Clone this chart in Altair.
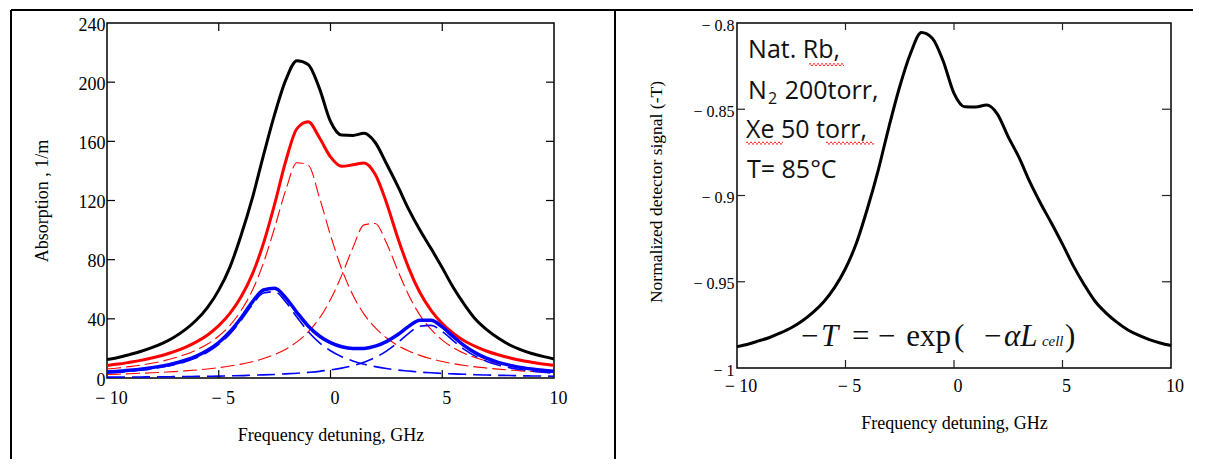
import altair as alt
import pandas as pd

# ---------------- data ----------------
freq = [-10, -9.5, -9, -8.5, -8, -7.5, -7, -6.5, -6, -5.5, -5, -4.5, -4, -3.5, -3, -2.5,
        -2, -1.5, -1, -0.5, 0, 0.5, 1, 1.5, 2, 2.5, 3, 3.5, 4, 4.5, 5, 5.5, 6, 6.5, 7,
        7.5, 8, 8.5, 9, 9.5, 10]

absorption_total = [12.5, 13.9, 15.8, 17.9, 20.5, 23.6, 27.6, 32.7, 39.2, 47.8, 59.4, 75.0,
                    96.5, 121.4, 150.5, 178.2, 201.5, 214.5, 212.0, 196.0, 173.4, 164.2, 164.0,
                    165.4, 159.2, 145.0, 130.0, 114.0, 100.0, 87.5, 74.5, 61.0, 49.5, 39.5, 32.5,
                    27.0, 22.5, 19.2, 16.6, 14.6, 12.9]

rb85_total = [8.5, 9.4, 10.6, 11.9, 13.5, 15.4, 17.8, 20.7, 24.4, 29.1, 35.4, 43.7, 55.0, 70.1,
              91.0, 117.5, 146.7, 168.6, 173.2, 162.6, 149.5, 143.1, 144.1, 145.4, 137.7, 118.7,
              95.2, 74.3, 57.8, 45.8, 36.8, 30.1, 25.0, 21.2, 18.1, 15.7, 13.7, 12.0, 10.7, 9.5, 8.6]

rb85_line_a = [6.1, 6.8, 7.7, 8.7, 10.0, 11.5, 13.5, 15.9, 19.0, 23.0, 28.4, 35.6, 45.6, 59.1,
               77.8, 101.6, 127.2, 145.5, 144.0, 122.3, 96.5, 73.7, 56.1, 43.2, 34.0, 27.2, 22.1,
               18.3, 15.3, 13.0, 11.2, 9.7, 8.5, 7.5, 6.7, 6.0, 5.4, 4.8, 4.4, 4.0, 3.7]

rb85_line_b = [2.4, 2.6, 2.9, 3.2, 3.5, 3.9, 4.3, 4.8, 5.4, 6.1, 7.0, 8.1, 9.4, 11.0, 13.2, 15.9,
               19.5, 24.4, 31.1, 40.3, 53.0, 69.4, 88.0, 103.5, 104.5, 91.5, 73.1, 56.0, 42.5,
               32.8, 25.6, 20.4, 16.5, 13.7, 11.4, 9.7, 8.3, 7.2, 6.3, 5.5, 4.9]

rb87_total = [4.0, 4.5, 5.2, 6.0, 7.0, 8.2, 9.8, 12.0, 14.8, 18.7, 24.0, 31.3, 40.6, 51.3, 59.5,
              60.7, 54.2, 44.3, 35.2, 28.4, 23.9, 21.1, 19.9, 20.0, 21.5, 24.6, 29.2, 34.9, 39.0,
              39.1, 34.5, 27.9, 21.7, 16.8, 13.2, 10.6, 8.7, 7.2, 6.1, 5.2, 4.5]

rb87_line_a = [3.4, 3.9, 4.5, 5.3, 6.2, 7.4, 8.9, 11.0, 13.7, 17.5, 22.7, 29.8, 39.0, 49.4, 57.4,
               58.3, 51.4, 41.1, 31.4, 23.9, 18.4, 14.4, 11.5, 9.3, 7.7, 6.4, 5.4, 4.7, 4.0, 3.5,
               3.1, 2.8, 2.5, 2.2, 2.0, 1.8, 1.7, 1.5, 1.4, 1.3, 1.2]

rb87_line_b = [0.6, 0.6, 0.7, 0.7, 0.8, 0.8, 0.9, 1.0, 1.1, 1.2, 1.3, 1.5, 1.6, 1.9, 2.1, 2.4,
               2.8, 3.2, 3.8, 4.5, 5.5, 6.7, 8.4, 10.7, 13.8, 18.2, 23.8, 30.2, 35.0, 35.6, 31.4,
               25.1, 19.2, 14.6, 11.2, 8.8, 7.0, 5.7, 4.7, 3.9, 3.3]

detector_signal = [-0.9876, -0.9862, -0.9843, -0.9823, -0.9797, -0.9767, -0.9728, -0.9678,
                   -0.9616, -0.9533, -0.9423, -0.9277, -0.9080, -0.8857, -0.8603, -0.8368,
                   -0.8175, -0.8055, -0.8088, -0.8220, -0.8408, -0.8486, -0.8487, -0.8476,
                   -0.8528, -0.8660, -0.8781, -0.8923, -0.9048, -0.9162, -0.9282, -0.9408,
                   -0.9517, -0.9613, -0.9680, -0.9734, -0.9778, -0.9810, -0.9835, -0.9855, -0.9870]

left_x_labels = [-10, -5, 0, 5, 10]
left_y_labels = [0, 40, 80, 120, 160, 200, 240]
left_x_ticks = [-5, 0, 5]
left_y_ticks = [40, 80, 120, 160, 200]
right_x_labels = [-10, -5, 0, 5, 10]
right_y_labels = [-1, -0.95, -0.9, -0.85, -0.8]
right_x_ticks = [-5, 0, 5]
right_y_ticks = [-0.95, -0.9, -0.85]

# annotation text (right panel), anchored in data coordinates
note_text = ["Nat. Rb,", "N", "200torr,", "Xe 50 torr,", "T= 85\u00b0C"]
note_x = [-9.49, -9.49, -7.80, -9.585, -9.54]
note_y = [-0.8205, -0.8442, -0.8442, -0.8668, -0.8900]
note_sub_text = ["2"]
note_sub_x = [-8.57]
note_sub_y = [-0.8471]
squiggle_x = [-6.68, -9.585, -5.90]
squiggle_x2 = [-5.07, -7.88, -3.69]
squiggle_y = [-0.8237, -0.8692, -0.8692]

formula_roman = ["\u2212", "=", "\u2212", "exp", "(", "\u2212", ")"]
formula_roman_x = [-7.05, -4.70, -3.50, -2.20, 0.00, 1.38, 5.12]
formula_italic = ["T", "\u03b1L"]
formula_italic_x = [-6.13, 2.30]
formula_sub = ["cell"]
formula_sub_x = [4.05]
formula_y = -0.9874
formula_sub_y = -0.9870

# ---------------- chart ----------------
SERIF = "Liberation Serif"
W1, H1 = 447, 355
W2, H2 = 434, 345
MINUS = "datum.value < 0 ? '\u2212 ' + abs(datum.value) : '' + datum.value"

xs1 = alt.Scale(domain=[-10, 10], nice=False, zero=False)
ys1 = alt.Scale(domain=[0, 240], nice=False, zero=False)
xs2 = alt.Scale(domain=[-10, 10], nice=False, zero=False)
ys2 = alt.Scale(domain=[-1, -0.8], nice=False, zero=False)

xa1 = alt.Axis(values=left_x_labels, labelExpr=MINUS, title="Frequency detuning, GHz",
               titleX=W1 / 2, titleY=57, titleBaseline="middle", titleFontSize=18,
               labelPadding=11, labelOffset=4, labelFontSize=18, labelFlush=False,
               labelOverlap=False, ticks=False, tickSize=0, domain=False, grid=False)
ya1 = alt.Axis(values=left_y_labels, labelExpr=MINUS, title="Absorption , 1/m",
               titleX=-65, titleY=H1 / 2, titleBaseline="middle", titleFontSize=18,
               labelPadding=2, labelOffset=2, labelFontSize=18, labelOverlap=False,
               ticks=False, tickSize=0, domain=False, grid=False)
xa2 = alt.Axis(values=right_x_labels, labelExpr=MINUS, title="Frequency detuning, GHz",
               titleX=W2 / 2, titleY=55, titleBaseline="middle", titleFontSize=18,
               labelPadding=9, labelOffset=3.5, labelFontSize=18, labelFlush=False,
               labelOverlap=False, ticks=False, tickSize=0, domain=False, grid=False)
ya2 = alt.Axis(values=right_y_labels, labelExpr=MINUS, title="Normalized detector signal  (-T)",
               titleX=-81, titleY=H2 / 2 - 4, titleBaseline="middle", titleFontSize=17.5,
               labelPadding=3, labelOffset=2, labelFontSize=16, labelOverlap=False,
               ticks=False, tickSize=0, domain=False, grid=False)

df = pd.DataFrame({
    "f": freq, "tot": absorption_total, "r": rb85_total, "ra": rb85_line_a, "rb": rb85_line_b,
    "b": rb87_total, "ba": rb87_line_a, "bb": rb87_line_b, "s": detector_signal,
})
one = pd.DataFrame({"k": [0]})

RED = "#ff0000"
BLUE = "#0000ff"


def curve(col, color, width, dash=None):
    kw = dict(color=color, strokeWidth=width, interpolate="monotone")
    if dash:
        kw["strokeDash"] = dash
    return alt.Chart(df).mark_line(**kw).encode(
        x=alt.X("f:Q", scale=xs1, axis=xa1),
        y=alt.Y(f"{col}:Q", scale=ys1, axis=ya1),
    )


lt = pd.DataFrame({"v": left_x_ticks})
ltY = pd.DataFrame({"v": left_y_ticks})
tick_l = [
    alt.Chart(lt).mark_rule(color="black", strokeWidth=1.2).encode(
        x=alt.X("v:Q", scale=xs1, axis=xa1), y=alt.value(H1), y2=alt.value(H1 - 8)),
    alt.Chart(lt).mark_rule(color="black", strokeWidth=1.2).encode(
        x=alt.X("v:Q", scale=xs1, axis=xa1), y=alt.value(0), y2=alt.value(8)),
    alt.Chart(ltY).mark_rule(color="black", strokeWidth=1.2).encode(
        y=alt.Y("v:Q", scale=ys1, axis=ya1), x=alt.value(0), x2=alt.value(8)),
    alt.Chart(ltY).mark_rule(color="black", strokeWidth=1.2).encode(
        y=alt.Y("v:Q", scale=ys1, axis=ya1), x=alt.value(W1), x2=alt.value(W1 - 8)),
]

frame = [
    alt.Chart(one).mark_rule(color="black", strokeWidth=2).encode(
        x=alt.value(-96), x2=alt.value(1086), y=alt.value(-13)),
    alt.Chart(one).mark_rule(color="black", strokeWidth=2).encode(
        x=alt.value(-96), y=alt.value(-13), y2=alt.value(436)),
    alt.Chart(one).mark_rule(color="black", strokeWidth=2).encode(
        x=alt.value(508), y=alt.value(-13), y2=alt.value(436)),
]

left = alt.layer(
    curve("ra", RED, 1.1, [14, 5]),
    curve("rb", RED, 1.1, [14, 5]),
    curve("ba", BLUE, 1.6, [18, 7]),
    curve("bb", BLUE, 1.6, [18, 7]),
    curve("r", RED, 3),
    curve("b", BLUE, 3.5),
    curve("tot", "black", 3),
    *tick_l,
    *frame,
).properties(width=W1, height=H1)

# ---- right panel ----
sig = alt.Chart(df).mark_line(color="black", strokeWidth=3, interpolate="monotone").encode(
    x=alt.X("f:Q", scale=xs2, axis=xa2),
    y=alt.Y("s:Q", scale=ys2, axis=ya2),
)

rt = pd.DataFrame({"v": right_x_ticks})
rtY = pd.DataFrame({"v": right_y_ticks})
tick_r = [
    alt.Chart(rt).mark_rule(color="#222", strokeWidth=1.2).encode(
        x=alt.X("v:Q", scale=xs2, axis=xa2), y=alt.value(H2), y2=alt.value(H2 - 8)),
    alt.Chart(rt).mark_rule(color="#222", strokeWidth=1.2).encode(
        x=alt.X("v:Q", scale=xs2, axis=xa2), y=alt.value(0), y2=alt.value(7)),
    alt.Chart(rtY).mark_rule(color="#222", strokeWidth=1.2).encode(
        y=alt.Y("v:Q", scale=ys2, axis=ya2), x=alt.value(0), x2=alt.value(8)),
    alt.Chart(rtY).mark_rule(color="#222", strokeWidth=1.2).encode(
        y=alt.Y("v:Q", scale=ys2, axis=ya2), x=alt.value(W2), x2=alt.value(W2 - 9)),
]


def text_layer(texts, xs, ys, font, size, style="normal"):
    d = pd.DataFrame({"t": texts, "x": xs, "y": ys})
    return alt.Chart(d).mark_text(align="left", baseline="alphabetic", font=font,
                                  fontSize=size, fontStyle=style, color="#111").encode(
        x=alt.X("x:Q", scale=xs2, axis=xa2),
        y=alt.Y("y:Q", scale=ys2, axis=ya2),
        text="t:N",
    )


notes = text_layer(note_text, note_x, note_y, "Open Sans", 25)
notes_sub = text_layer(note_sub_text, note_sub_x, note_sub_y, "Open Sans", 16)

sq = pd.DataFrame({"x": squiggle_x, "x2": squiggle_x2, "y": squiggle_y})
squig = [
    alt.Chart(sq).mark_rule(color="#ff3030", strokeWidth=1.1, strokeDash=[2, 2]).encode(
        x=alt.X("x:Q", scale=xs2, axis=xa2), x2="x2:Q", y=alt.Y("y:Q", scale=ys2, axis=ya2)),
    alt.Chart(sq).mark_rule(color="#ff3030", strokeWidth=1.1, strokeDash=[2, 2],
                            strokeDashOffset=2, yOffset=1.5).encode(
        x=alt.X("x:Q", scale=xs2, axis=xa2), x2="x2:Q", y=alt.Y("y:Q", scale=ys2, axis=ya2)),
]

f_roman = text_layer(formula_roman, formula_roman_x, [formula_y] * len(formula_roman), SERIF, 31)
f_italic = text_layer(formula_italic, formula_italic_x, [formula_y] * len(formula_italic), SERIF, 31, "italic")
f_sub = text_layer(formula_sub, formula_sub_x, [formula_sub_y], SERIF, 15, "italic")

right = alt.layer(
    sig, *tick_r, notes, notes_sub, *squig, f_roman, f_italic, f_sub,
).properties(width=W2, height=H2)

chart = alt.hconcat(
    left, right, spacing=183, bounds="flush",
    padding={"left": 1, "top": 0, "right": 0, "bottom": 0},
    background="white",
).configure_view(
    stroke="black", strokeWidth=1.5,
).configure_axis(
    labelFont=SERIF, titleFont=SERIF, labelColor="black", titleColor="black",
    titleFontWeight="normal",
)

chart.save("out.html", embed_options={"renderer": "svg", "actions": False})
